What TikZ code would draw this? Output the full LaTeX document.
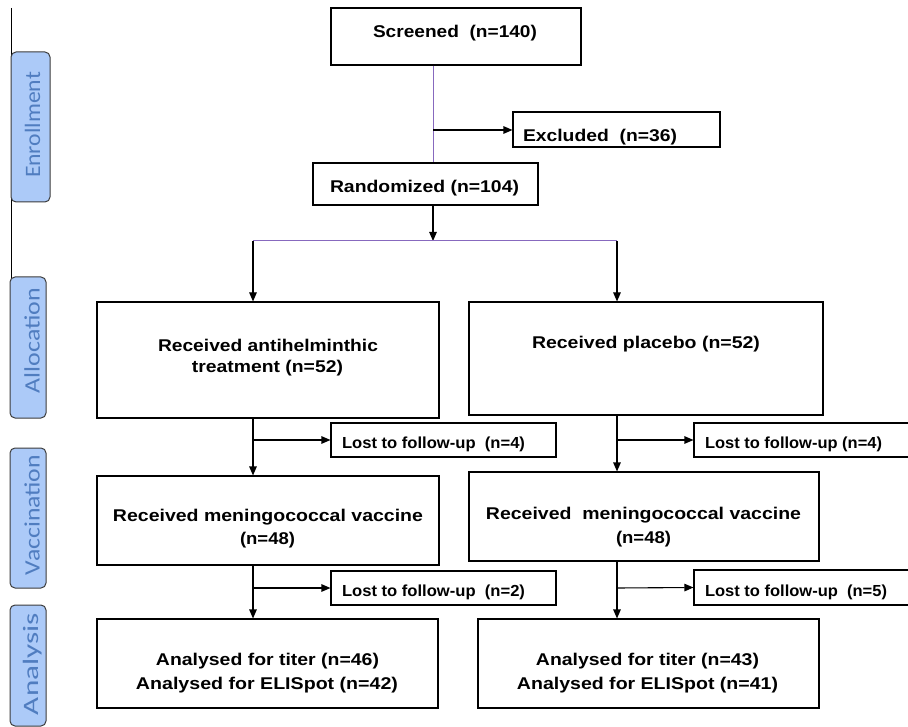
\documentclass[tikz,border=0pt]{standalone}
\usepackage{fontspec}
\setmainfont{Liberation Sans}
\newfontfamily\tabfont{Carlito}
\usetikzlibrary{arrows.meta}
\definecolor{tabfill}{RGB}{172,202,248}
\definecolor{tabedge}{RGB}{60,60,60}
\definecolor{tabtext}{RGB}{80,125,192}
\definecolor{vio}{RGB}{135,105,190}
\newcommand\fitw[2]{\resizebox{#1pt}{\height}{#2}}
\tikzset{
  box/.style={draw=black,line width=1.1pt,inner sep=0pt},
  txt/.style={inner sep=0pt,font=\fontsize{17}{20}\selectfont\bfseries},
  losttxt/.style={inner sep=0pt,font=\fontsize{16}{18}\selectfont\bfseries},
  tabbox/.style={draw=tabedge,fill=tabfill,rounded corners=5pt,line width=1pt,inner sep=0pt},
  tablabel/.style={rotate=90,text=tabtext,inner sep=0pt,font=\tabfont\fontsize{22}{24}\selectfont},
  arr/.style={-{Triangle[length=9pt,width=7.5pt]},line width=1.1pt},
  vline/.style={draw=vio,line width=1pt},
}
\begin{document}
\begin{tikzpicture}[x=1pt,y=-1pt]
\useasboundingbox (0,0) rectangle (908,727);
\clip (0,0) rectangle (908,727);

% left rule and phase tabs
\coordinate (ltop) at (11.5,8);
\coordinate (lbot) at (11.5,368);
\draw[line width=1pt] (ltop) -- (lbot);
\node[tabbox,minimum width=39pt,minimum height=150pt] (tEn) at (30.5,127) {};
\node[tabbox,minimum width=36pt,minimum height=141pt] (tAl) at (28,347.5) {};
\node[tabbox,minimum width=36pt,minimum height=140pt] (tVa) at (28,518) {};
\node[tabbox,minimum width=36pt,minimum height=121pt] (tAn) at (28,665.5) {};
\node[tablabel] (lEn) at (32.5,125) {\fitw{106}{Enrollment}};
\node[tablabel] (lAl) at (32,340.5) {\fitw{105}{Allocation}};
\node[tablabel] (lVa) at (32,515) {\fitw{120}{Vaccination}};
\node[tablabel] (lAn) at (33,664) {\fitw{102}{Analysis}};

% boxes
\node[box,minimum width=250pt,minimum height=57pt] (scr) at (456,36.5) {};
\node[box,minimum width=207pt,minimum height=35pt] (exc) at (616.5,129.5) {};
\node[box,minimum width=225pt,minimum height=42pt] (rnd) at (425.5,184) {};
\node[box,minimum width=342pt,minimum height=116pt] (alL) at (268,360) {};
\node[box,minimum width=354pt,minimum height=113pt] (alR) at (646,358.5) {};
\node[box,minimum width=225pt,minimum height=34pt] (laL) at (443.5,440) {};
\node[box,minimum width=218pt,minimum height=34pt] (laR) at (803,440) {};
\node[box,minimum width=342pt,minimum height=89pt] (vaL) at (268,520.5) {};
\node[box,minimum width=350pt,minimum height=89pt] (vaR) at (644,516.5) {};
\node[box,minimum width=225pt,minimum height=34pt] (lvL) at (443.5,588) {};
\node[box,minimum width=218pt,minimum height=35pt] (lvR) at (803,587.5) {};
\node[box,minimum width=341pt,minimum height=89pt] (anL) at (267.5,663.5) {};
\node[box,minimum width=341pt,minimum height=89pt] (anR) at (648.5,663.5) {};

% texts
\node[txt] (xscr) at (455,33) {\fitw{164}{Screened\ \ (n=140)}};
\node[txt] (xexc) at (600,137) {\fitw{154}{Excluded\ \ (n=36)}};
\node[txt] (xrnd) at (424.5,188) {\fitw{189}{Randomized (n=104)}};
\node[txt] (xalL1) at (268,345) {\fitw{220}{Received antihelminthic}};
\node[txt] (xalL2) at (267.5,368) {\fitw{151}{treatment (n=52)}};
\node[txt] (xalR) at (646,344) {\fitw{228}{Received placebo (n=52)}};
\node[txt] (xvaL1) at (268,517) {\fitw{310}{Received meningococcal vaccine}};
\node[txt] (xvaL2) at (267.5,540) {\fitw{55}{(n=48)}};
\node[txt] (xvaR1) at (643.5,515) {\fitw{315}{Received\ \ meningococcal vaccine}};
\node[txt] (xvaR2) at (643.5,539) {\fitw{55}{(n=48)}};
\node[txt] (xanL1) at (267.5,661) {\fitw{223}{Analysed for titer (n=46)}};
\node[txt] (xanL2) at (267,685) {\fitw{262}{Analysed for ELISpot (n=42)}};
\node[txt] (xanR1) at (647.5,661) {\fitw{223}{Analysed for titer (n=43)}};
\node[txt] (xanR2) at (647.5,685) {\fitw{261}{Analysed for ELISpot (n=41)}};
\node[losttxt] (xlaL) at (433.5,444) {\fitw{183}{Lost to follow-up\ \ (n=4)}};
\node[losttxt] (xlaR) at (793.5,444) {\fitw{177}{Lost to follow-up (n=4)}};
\node[losttxt] (xlvL) at (433.5,592) {\fitw{183}{Lost to follow-up\ \ (n=2)}};
\node[losttxt] (xlvR) at (796,592) {\fitw{182}{Lost to follow-up\ \ (n=5)}};

% connectors
\coordinate (c1) at (433,130);
\coordinate (c2) at (433,241);
\coordinate (sl) at (253,241);
\coordinate (sr) at (617,241);
\coordinate (bL1) at (253,440);
\coordinate (bR1) at (617,440);
\coordinate (bL2) at (253,588);
\coordinate (bR2) at (617,588);

\draw[vline] (c1 |- scr.south) -- (c1 |- rnd.north);
\draw[arr] (c1) -- (exc.west |- c1);
\draw[arr] (c2 |- rnd.south) -- (c2);
\draw[vline] (sl) -- (sr);
\draw[arr] (sl) -- (sl |- alL.north);
\draw[arr] (sr) -- (sr |- alR.north);

\draw[arr] (bL1 |- alL.south) -- (bL1 |- vaL.north);
\draw[arr] (bL1) -- (laL.west);
\draw[arr] (bR1 |- alR.south) -- (bR1 |- vaR.north);
\draw[arr] (bR1) -- (laR.west);

\draw[arr] (bL2 |- vaL.south) -- (bL2 |- anL.north);
\draw[arr] (bL2) -- (lvL.west);
\draw[arr] (bR2 |- vaR.south) -- (bR2 |- anR.north);
\draw[arr] (bR2) -- (lvR.west);
\end{tikzpicture}
\end{document}
